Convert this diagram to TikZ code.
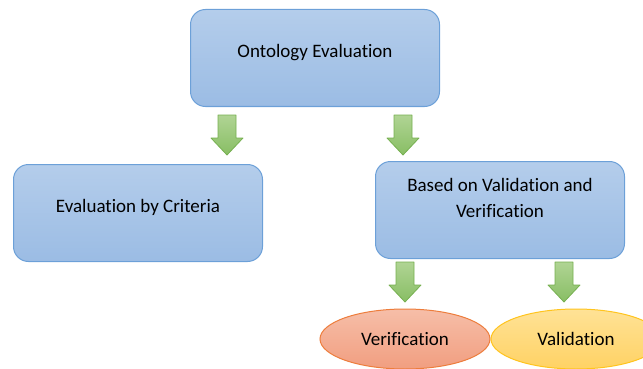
\documentclass[tikz,border=0pt]{standalone}
\usepackage{fontspec}
\setmainfont[Ligatures=NoCommon]{Carlito}
\usepackage{tikz}
\usetikzlibrary{shapes.geometric}
\definecolor{boxline}{RGB}{108,160,216}
\definecolor{boxtop}{RGB}{180,205,235}
\definecolor{boxbot}{RGB}{155,188,228}
\definecolor{arrowline}{RGB}{118,176,80}
\definecolor{arrowtop}{RGB}{176,212,148}
\definecolor{arrowbot}{RGB}{136,190,100}
\definecolor{verifline}{RGB}{237,125,60}
\definecolor{veriftop}{RGB}{246,190,168}
\definecolor{verifbot}{RGB}{241,158,128}
\definecolor{validline}{RGB}{255,196,30}
\definecolor{validtop}{RGB}{255,226,150}
\definecolor{validbot}{RGB}{255,210,100}
\tikzset{
	blockbox/.style={draw=boxline, line width=1pt, rounded corners=15pt,
		top color=boxtop, bottom color=boxbot, minimum width=249pt,
		minimum height=97pt, align=center, text depth=15pt,
		font=\fontsize{19}{26}\selectfont},
	ovalnode/.style={ellipse, line width=1pt, minimum width=170pt,
		minimum height=60pt, inner sep=0pt, font=\fontsize{19}{26}\selectfont},
	downarrow/.pic={\draw[draw=arrowline, line width=0.8pt, top color=arrowtop, bottom color=arrowbot, line join=round]
		(-9,0) -- (9,0) -- (9,23) -- (16,23) -- (0,40) -- (-16,23) -- (-9,23) -- cycle;}
}

\begin{document}
\begin{tikzpicture}[x=1pt,y=-1pt]
	\useasboundingbox (0,0) rectangle (643,369);
	\clip (0,0) rectangle (643,369);
		\node[blockbox] (ontoeval) at (315,58) {Ontology Evaluation};
		\node[blockbox] (bycrit) at (138,213) {Evaluation by Criteria};
		\node[blockbox, text depth=24pt] (valver) at (500,210) {Based on Validation and\\Verification};
		\node[ovalnode, draw=verifline, top color=veriftop, bottom color=verifbot] (verif) at (405,339) {Verification};
		\node[ovalnode, draw=validline, top color=validtop, bottom color=validbot] (valid) at (576,339) {Validation};
		\pic (arrcrit) at (227,115) {downarrow};
		\pic (arrvalver) at (403,115) {downarrow};
		\pic (arrverif) at (405,262) {downarrow};
		\pic (arrvalid) at (564,262) {downarrow};
\end{tikzpicture}
\end{document}
